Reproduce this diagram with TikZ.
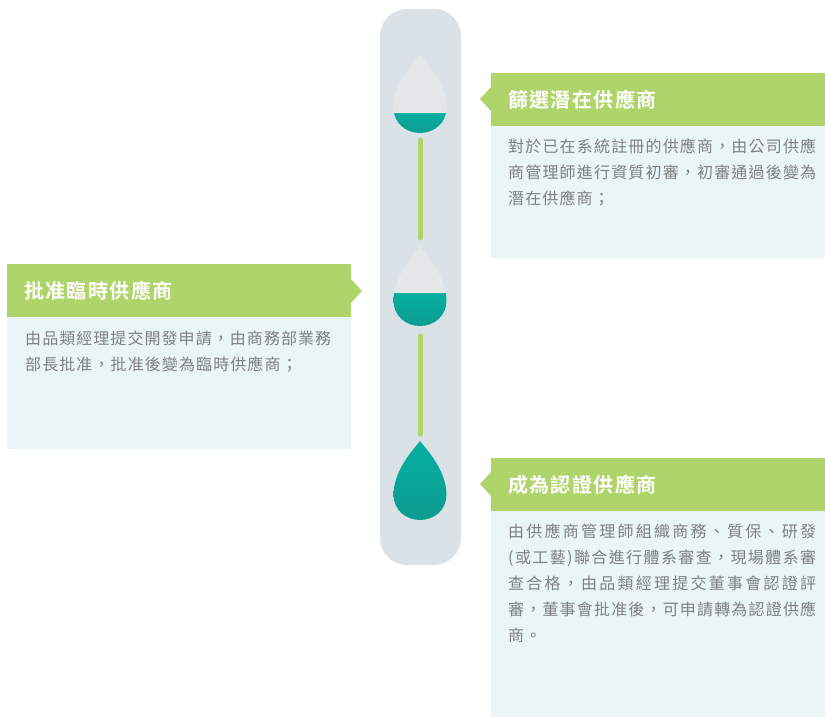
\documentclass[tikz,border=0pt]{standalone}
\usepackage{fontspec}
\setmainfont{Noto Sans CJK TC}
\newfontfamily\headfont{Noto Sans CJK TC Bold}
\definecolor{barcol}{HTML}{DAE2E8}
\definecolor{leaf}{HTML}{AFD56A}
\definecolor{pale}{HTML}{E9F5F6}
\definecolor{dropgray}{HTML}{E4E6E8}
\definecolor{tealtop}{HTML}{05AFA0}
\definecolor{tealbot}{HTML}{0E9C90}
\definecolor{bodytext}{HTML}{808080}
\makeatletter
\newcommand{\fullline}[2]{\hbox to #1pt{\@tfor\tch:=#2\do{\tch\hfill}\unskip}}
\newcommand{\spacedline}[2]{\hbox{\@tfor\tch:=#2\do{\tch\kern#1pt}}}
\makeatother
\newcommand{\bodylines}[1]{\vbox{\baselineskip=25.8pt\lineskiplimit=-10pt\fontsize{16}{26}\selectfont #1}}
\newcommand{\dropoutline}{(0,0) .. controls (8,10) and (26.5,30) .. (26.5,54)
       .. controls (26.5,69) and (14,79) .. (0,79)
       .. controls (-14,79) and (-26.5,69) .. (-26.5,54)
       .. controls (-26.5,30) and (-8,10) .. (0,0) -- cycle}
\tikzset{
  x=1pt,y=-1pt,
  hdrbox/.style={fill=leaf,draw=none,inner sep=0pt,minimum height=53pt,anchor=north west},
  bodybox/.style={fill=pale,draw=none,inner sep=0pt,anchor=north west},
  hdrtext/.style={text=white,inner sep=0pt,anchor=west,font=\headfont\fontsize{20}{24}\selectfont},
  bodytxt/.style={text=bodytext,inner sep=0pt,anchor=north west},
  link/.style={leaf,line width=5pt,line cap=round}
}
\newcommand{\waterdrop}[2]{%
  \begin{scope}[shift={(420,#1)}]
    \fill[dropgray] \dropoutline;
    \begin{scope}
      \clip (-30,#2) rectangle (30,82);
      \clip \dropoutline;
      \shade[top color=tealtop,bottom color=tealbot] (-30,#2) rectangle (30,80);
    \end{scope}
  \end{scope}}
\begin{document}
\begin{tikzpicture}
\useasboundingbox (0,0) rectangle (825,717);
\fill[barcol,rounded corners=27pt] (380,9) rectangle (461,565);
\waterdrop{54}{59}
\waterdrop{247}{46}
\waterdrop{441}{0}
\coordinate (d1b) at (420,140);
\coordinate (d2a) at (420,238);
\coordinate (d2b) at (420,336);
\coordinate (d3a) at (420,434);
\draw[link] (d1b) -- (d2a);
\draw[link] (d2b) -- (d3a);

\node[bodybox,minimum width=334pt,minimum height=132pt] (b1) at (491,126) {};
\node[hdrbox,minimum width=334pt] (h1) at (491,73) {};
\fill[leaf] (491,87) -- (480,99) -- (491,111) -- cycle;
\node[hdrtext] (t1) at (508,100) {\spacedline{1.4}{篩選潛在供應商}};
\node[bodytxt] (x1) at (508,138.7) {\bodylines{%
  \fullline{308}{對於已在系統註冊的供應商，由公司供應}
  \fullline{308}{商管理師進行資質初審，初審通過後變為}
  \spacedline{1.1}{潛在供應商；}}};

\node[bodybox,minimum width=344pt,minimum height=132pt] (b2) at (7,317) {};
\node[hdrbox,minimum width=344pt] (h2) at (7,264) {};
\fill[leaf] (351,279) -- (362,291) -- (351,303) -- cycle;
\node[hdrtext] (t2) at (24,291) {\spacedline{1.4}{批准臨時供應商}};
\node[bodytxt] (x2) at (25,330.7) {\bodylines{%
  \fullline{306}{由品類經理提交開發申請，由商務部業務}
  \spacedline{1.1}{部長批准，批准後變為臨時供應商；}}};

\node[bodybox,minimum width=334pt,minimum height=206pt] (b3) at (491,511) {};
\node[hdrbox,minimum width=334pt] (h3) at (491,458) {};
\fill[leaf] (491,472) -- (480,484) -- (491,496) -- cycle;
\node[hdrtext] (t3) at (508,485) {\spacedline{1.4}{成為認證供應商}};
\node[bodytxt] (x3) at (508,523.7) {\bodylines{%
  \fullline{308}{由供應商管理師組織商務、質保、研發}
  \fullline{308}{(或工藝)聯合進行體系審查，現場體系審}
  \fullline{308}{查合格，由品類經理提交董事會認證評}
  \fullline{308}{審，董事會批准後，可申請轉為認證供應}
  \spacedline{1.1}{商。}}};
\end{tikzpicture}
\end{document}
